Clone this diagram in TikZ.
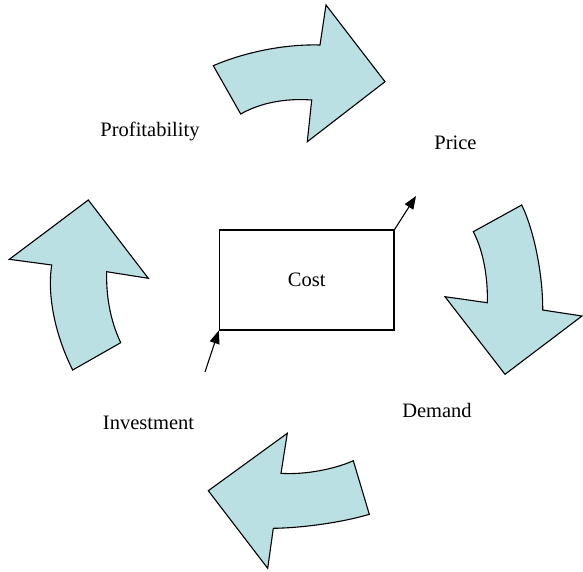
\documentclass[tikz,border=0pt]{standalone}
\usepackage{fontspec}
\setmainfont{Liberation Serif}
\usetikzlibrary{arrows.meta}
\definecolor{arrowfill}{RGB}{187,224,227}
\tikzset{
  blockarrow/.style={draw=black, fill=arrowfill, line width=1.1pt, line join=miter},
  labeltext/.style={font=\fontsize{20.5}{24}\selectfont, anchor=base, inner sep=0pt},
  costbox/.style={draw=black, line width=1.1pt, minimum width=174.7pt, minimum height=100pt, inner sep=0pt, font=\fontsize{20.5}{24}\selectfont},
  connector/.style={line width=1.1pt, -{Triangle[length=13pt,width=10pt]}}
}
\begin{document}
\begin{tikzpicture}[x=1pt,y=-1pt]
\useasboundingbox (0,0) rectangle (583,571);
% top arrow (Profitability -> Price)
\path[blockarrow] (213.3,65.7) .. controls (245,52) and (285,44) .. (320,45)
  -- (326,5) -- (385,81.7) -- (307.3,141.7) -- (311.7,100)
  .. controls (285,98) and (260,103) .. (240.7,114) -- cycle;
% right arrow (Price -> Demand)
\path[blockarrow] (521.7,205) .. controls (534,230) and (543,275) .. (542.7,310)
  -- (582,316) -- (505,374.3) -- (445,296.7) -- (487.3,302.7)
  .. controls (488,280) and (484,252) .. (473.3,231.7) -- cycle;
% bottom arrow (Demand -> Investment)
\path[blockarrow] (353.3,460.7) .. controls (335,469) and (305,475) .. (281,473.3)
  -- (287.3,433.3) -- (208.3,490.7) -- (267.7,568.3) -- (273.3,528.3)
  .. controls (300,528) and (340,523) .. (369.3,514.3) -- cycle;
% left arrow (Investment -> Profitability)
\path[blockarrow] (72.7,370) .. controls (55,335) and (47,295) .. (51.7,265)
  -- (9.3,259.3) -- (88.3,200) -- (148.3,278.3) -- (106.7,271.7)
  .. controls (106,295) and (110,320) .. (120.7,342.7) -- cycle;
% labels
\node[labeltext] (profit) at (150,136) {Profitability};
\node[labeltext] (price) at (455.5,149) {Price};
\node[labeltext] (demand) at (437,417) {Demand};
\node[labeltext] (invest) at (148.5,429) {Investment};
% central box
\node[costbox] (cost) at (306.65,280) {Cost};
% connectors
\coordinate (priceend) at (416,196);
\coordinate (investstart) at (205,372);
\draw[connector] (cost.north east) -- (priceend);
\draw[connector] (investstart) -- (cost.south west);
\end{tikzpicture}
\end{document}
